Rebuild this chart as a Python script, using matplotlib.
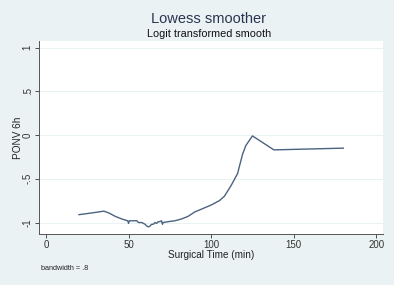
import matplotlib
matplotlib.use("Agg")
import matplotlib.pyplot as plt

surgical_time = [20, 28, 35, 38, 42, 46, 49.5, 50, 50.5, 53, 55, 56, 58, 60, 61, 62, 63, 64,
                 65, 66, 67, 68, 69, 70, 70.5, 71, 74, 78, 82, 86, 90, 95, 100, 105, 108,
                 112, 116, 119, 121, 125, 138, 180]
ponv_smooth = [-0.91, -0.89, -0.87, -0.89, -0.93, -0.96, -0.98, -1.01, -0.98, -0.98, -0.98,
               -1.00, -1.00, -1.02, -1.04, -1.05, -1.04, -1.02, -1.02, -1.00, -1.01, -0.99,
               -0.99, -0.98, -1.02, -1.00, -0.99, -0.98, -0.96, -0.93, -0.88, -0.84, -0.80,
               -0.75, -0.70, -0.58, -0.44, -0.22, -0.12, -0.01, -0.17, -0.15]
x_ticks = [0, 50, 100, 150, 200]
y_ticks = [-1, -0.5, 0, 0.5, 1]
y_tick_labels = ["-1", "-.5", "0", ".5", "1"]

plt.rcParams['font.family'] = ['Liberation Sans', 'DejaVu Sans']
bg = '#eaf2f3'
fig = plt.figure(figsize=(3.94, 2.85), dpi=100, facecolor=bg)
ax = fig.add_axes([0.099, 0.179, 0.873, 0.677])
ax.set_facecolor('white')
ax.plot(surgical_time, ponv_smooth, color='#4d6280', lw=1.0)
ax.set_xlim(-4.2, 204)
ax.set_ylim(-1.131, 1.074)
ax.set_xticks(x_ticks)
ax.set_yticks(y_ticks)
ax.set_yticklabels(y_tick_labels, rotation=90, va='center')
ax.tick_params(axis='both', labelsize=7, colors='#333333', length=3, width=0.6, pad=1.5)
ax.grid(axis='y', color='#eaf2f3', lw=0.8)
ax.grid(axis='x', visible=False)
for s in ['top', 'right']:
    ax.spines[s].set_visible(False)
for s in ['left', 'bottom']:
    ax.spines[s].set_color('#555555')
    ax.spines[s].set_linewidth(0.7)
ax.set_xlabel('Surgical Time (min)', fontsize=7.2, color='#222222', labelpad=0)
ax.set_ylabel('PONV 6h', fontsize=7.2, color='#222222', labelpad=0)
fig.text(0.53, 0.935, 'Lowess smoother', ha='center', va='center', fontsize=10.5, color='#2a3550')
fig.text(0.53, 0.88, 'Logit transformed smooth', ha='center', va='center', fontsize=7.8, color='#111111')
fig.text(0.105, 0.058, 'bandwidth = .8', ha='left', va='center', fontsize=5.2, color='#222222')
fig.savefig('out.png', dpi=100, facecolor=bg)
